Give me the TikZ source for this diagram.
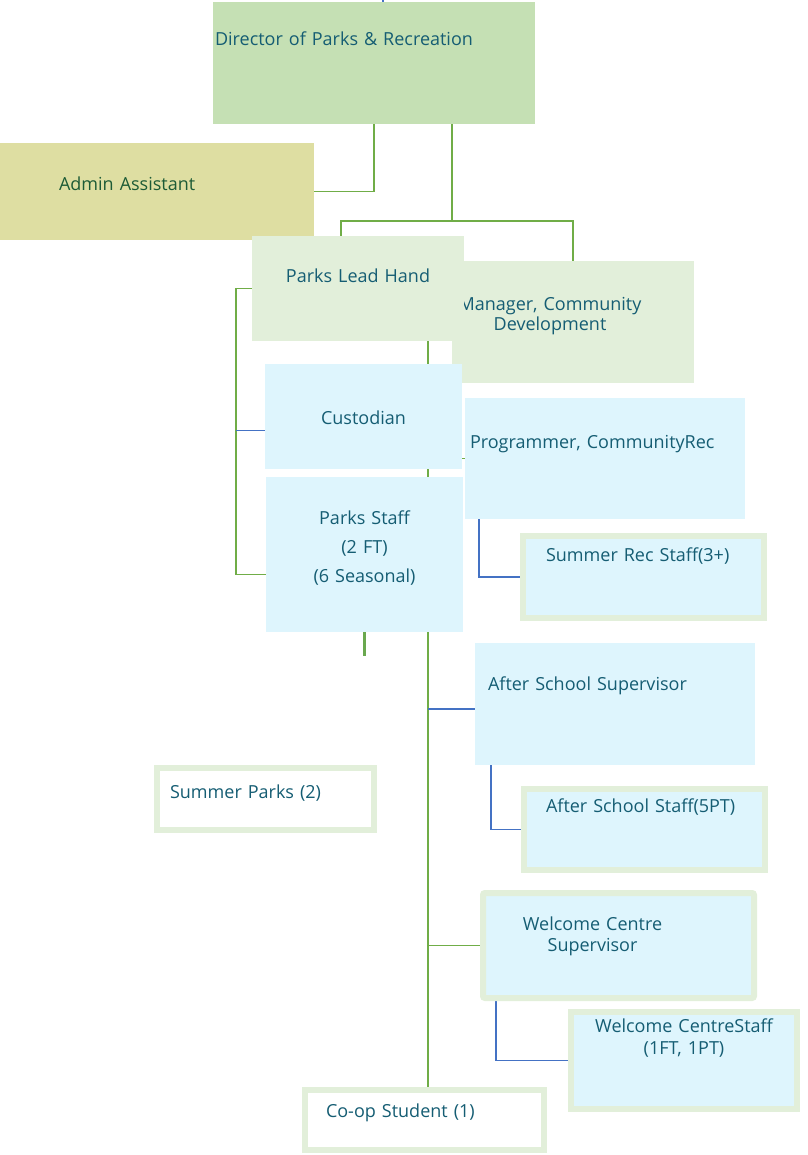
\documentclass[tikz,border=0pt]{standalone}
\usepackage{fontspec}
\setmainfont{Open Sans}
\usetikzlibrary{calc,backgrounds}

\definecolor{dirgreen}{HTML}{C5E0B4}
\definecolor{adminolive}{HTML}{DEDEA2}
\definecolor{palegreen}{HTML}{E2EFDA}
\definecolor{palecyan}{HTML}{DEF5FD}
\definecolor{tealtext}{HTML}{155D73}
\definecolor{admintext}{HTML}{1D5B36}
\definecolor{linegreen}{HTML}{70AD47}
\definecolor{stubgreen}{HTML}{6AA84F}
\definecolor{lineblue}{HTML}{4472C4}

\begin{document}
\begin{tikzpicture}[x=1pt, y=-1pt,
  box/.style={anchor=north west, inner ysep=0pt, outer sep=0pt, font=\fontsize{18}{21}\selectfont, text=tealtext},
  rbox/.style={box, draw=palegreen, line width=6pt},
  gline/.style={draw=linegreen, line width=1.3pt},
  bline/.style={draw=lineblue, line width=1.3pt}
]
\useasboundingbox (0,0) rectangle (807,1155);

\node[box, fill=dirgreen, inner xsep=2pt, text width=318pt, align=left, text height=44pt, text depth=78pt] (dir) at (213,2) {Director of Parks \& Recreation};
\node[box, fill=adminolive, text=admintext, inner xsep=59pt, text width=196pt, align=left, text height=48pt, text depth=49pt] (admin) at (0,143) {Admin Assistant};

% manager sits under the lead hand box
\node[box, fill=palegreen, inner xsep=0pt, text width=242pt, align=center, text height=49pt, text depth=73pt] (mgr) at (452,261)
  {\hspace*{-46pt}Manager, Community\\[-1pt]\hspace*{-46pt}Development};
\node[box, fill=palegreen, inner xsep=0pt, text width=212pt, align=center, text height=47pt, text depth=58pt] (lead) at (252,236) {Parks Lead Hand};

\node[box, fill=palecyan, inner xsep=0pt, text width=197pt, align=center, text height=60pt, text depth=45pt] (cust) at (265,364) {Custodian};
\node[box, fill=palecyan, inner xsep=5pt, text width=270pt, align=left, text height=50pt, text depth=71pt] (prog) at (465,398) {Programmer, CommunityRec};
\node[box, fill=palecyan, inner xsep=0pt, text width=197pt, align=center, text height=47pt, text depth=108pt] (pstaff) at (266,477)
  {Parks Staff\\[8pt](2 FT)\\[8pt](6 Seasonal)};
\node[rbox, fill=palecyan, inner xsep=23pt, text width=195pt, align=left, text height=25pt, text depth=57pt] (srec) at (523,536) {Summer Rec Staff(3+)};

\node[box, fill=palecyan, inner xsep=13pt, text width=254pt, align=left, text height=47pt, text depth=75pt] (asup) at (475,643) {After School Supervisor};
\node[rbox, fill=palecyan, inner xsep=22pt, text width=197pt, align=left, text height=23pt, text depth=58pt] (astaff) at (524,789) {After School Staff(5PT)};
\node[rbox, fill=white, inner xsep=13pt, text width=191pt, align=left, text height=30pt, text depth=32pt] (sparks) at (157,768) {Summer Parks (2)};

\node[rbox, fill=palecyan, rounded corners=2pt, inner xsep=0pt, text width=271pt, align=center, text height=37pt, text depth=68pt] (wsup) at (483,893)
  {\hspace*{-52pt}Welcome Centre\\\hspace*{-52pt}Supervisor};
\node[rbox, fill=palecyan, inner xsep=0pt, text width=226pt, align=center, text height=20pt, text depth=77pt] (wstaff) at (571,1012)
  {Welcome CentreStaff\\[1pt](1FT, 1PT)};
\node[rbox, fill=white, inner xsep=21pt, text width=197pt, align=left, text height=27pt, text depth=33pt] (coop) at (305,1090) {Co-op Student (1)};

\begin{pgfonlayer}{background}
% director branches
\coordinate (split) at ($(dir.south west)+(239,97)$);
\draw[bline] ($(dir.north west)+(170,0)$) -- ++(0,-3);
\draw[gline] (dir.south) |- (admin.east);
\draw[gline] (dir.south -| split) -- (split);
\draw[gline] (split) -| ($(lead.north west)+(89,0)$);
\draw[gline] (split) -| (mgr.north);
% lead hand bracket and trunk
\draw[gline] (lead.west) -- ++(-16,0) |- ($(pstaff.west)+(0,20)$);
\draw[bline] ($(cust.west)+(-29,14)$) -- ($(cust.west)+(0,14)$);
\coordinate (trunk) at ($(lead.south east)+(-36,0)$);
\draw[gline] (trunk) -- (trunk |- coop.north);
\draw[bline] ($(trunk |- asup.west)+(0,5)$) -- ($(asup.west)+(0,5)$);
\draw[gline] (trunk |- wsup.west) -- (wsup.west);
\draw[line width=3pt, draw=stubgreen] (pstaff.south) -- ++(0,24);
% supervisors to staff
\draw[gline] (cust.east |- prog.west) -- (prog.west);
\draw[bline] ($(prog.south west)+(14,0)$) |- (srec.west);
\draw[bline] ($(asup.south west)+(16,0)$) |- (astaff.west);
\draw[bline] ($(wsup.south west)+(13,0)$) |- (wstaff.west);
\end{pgfonlayer}
\end{tikzpicture}
\end{document}
